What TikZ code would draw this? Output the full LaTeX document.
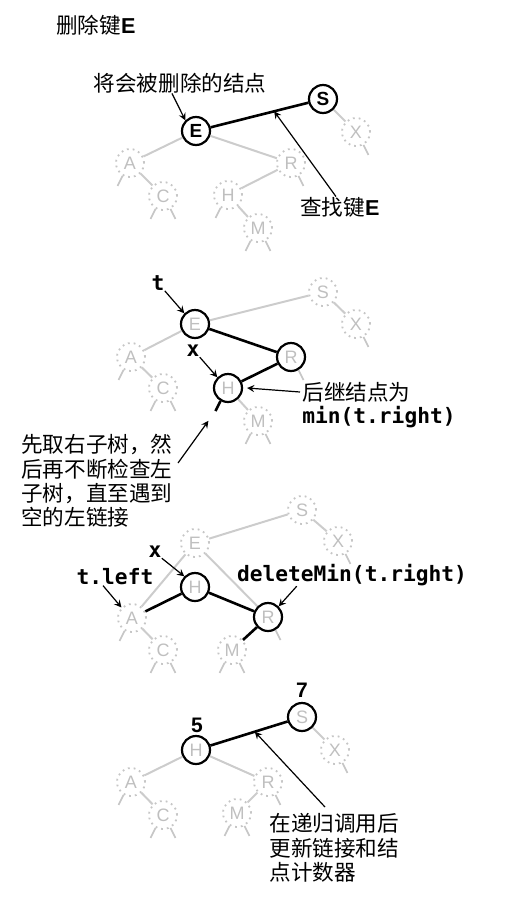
\documentclass[tikz,border=0pt]{standalone}
\usepackage{fontspec}
\setmainfont{Liberation Sans}
\setmonofont{DejaVu Sans Mono}
\newfontfamily\cjk{Noto Sans CJK SC}
\usetikzlibrary{positioning}

\begin{document}
\begin{tikzpicture}
[x=0.5pt,y=-0.5pt,every node/.style={inner sep=0pt},
  key/.style = {circle,draw,line width=1.1pt,minimum size=14pt,
        font=\fontsize{9}{9}\selectfont},
  keyon/.style = {key,font=\fontsize{9.5}{9}\selectfont\bfseries},
  keydim/.style = {key,text=gray!50},
  keyoff/.style = {circle,draw=gray!45,dotted,line width=0.9pt,
        minimum size=14pt,text=gray!50,font=\fontsize{9}{9}\selectfont},
  link/.style = {draw=gray!40,line width=1pt},
  boldlink/.style = {draw,line width=1.3pt},
  nullstub/.style = {draw=gray!45,line width=0.8pt},
  pointer/.style = {-stealth,line width=0.6pt},
  zh/.style = {font=\cjk\fontsize{10.8}{12.2}\selectfont,align=left},
  code/.style = {font=\fontsize{10.6}{12}\selectfont\ttfamily\bfseries}]
\useasboundingbox (0,0) rectangle (510,906);

\node[zh] (title) at (96,25) {删除键{\rmfamily\bfseries E}};

% search for E
\node[keyon] (S1) at (323,99) {S};
\node[keyon] (E1) at (196,131) {E};
\node[keyoff] (X1) at (356,132) {X};
\node[keyoff] (A1) at (130,163) {A};
\node[keyoff] (R1) at (291,163) {R};
\node[keyoff] (C1) at (163,196) {C};
\node[keyoff] (H1) at (228,195) {H};
\node[keyoff] (M1) at (258,228) {M};
\path[link] (S1) edge (X1) (E1) edge (A1) (E1) edge (R1)
   (A1) edge (C1) (R1) edge (H1) (H1) edge (M1);
\draw[boldlink] (E1) -- coordinate[pos=0.65] (es1) (S1);
\node[zh] (doomed) at (180,83) {将会被删除的结点};
\node[zh] (find) at (340,207) {查找键{\rmfamily\bfseries E}};
\draw[pointer] ([xshift=-4pt]doomed.south) -- (E1.north west);
\draw[pointer] ([xshift=-2pt]find.north) -- (es1);

% find the successor
\node[keyoff] (S2) at (323,292) {S};
\node[keydim] (E2) at (195,324) {E};
\node[keyoff] (X2) at (356,324) {X};
\node[keyoff] (A2) at (131,357) {A};
\node[keydim] (R2) at (291,357) {R};
\node[keyoff] (C2) at (163,388) {C};
\node[keydim] (H2) at (228,388) {H};
\node[keyoff] (M2) at (258,421) {M};
\path[link] (E2) edge (S2) (S2) edge (X2) (E2) edge (A2)
   (A2) edge (C2) (H2) edge (M2);
\path[boldlink] (E2) edge (R2) (R2) edge (H2);
\draw[boldlink] (H2.240) -- ++(-5,10) coordinate (h2null);
\node[code] (t2) at (158,283) {t};
\node[code] (x2) at (193,351) {x};
\node[zh,anchor=west] (succ) at (302,392) {后继结点为};
\node[code,anchor=west] (succmin) at (302,417) {min(t.right)};
\node[zh,anchor=west] (walk) at (21,481)
   {先取右子树，然\\后再不断检查左\\子树，直至遇到\\空的左链接};
\coordinate (walkend) at (178,463);
\draw[pointer] (t2.south east) -- (E2.north west);
\draw[pointer] (x2.south east) -- (H2.north west);
\draw[pointer] ([xshift=-1pt]succ.west) -- ([xshift=2pt]H2.east);
\draw[pointer,shorten >=6pt] (walkend) -- (h2null);

% replace E by its successor
\node[keyoff] (S3) at (302,510) {S};
\node[keyoff] (E3) at (195,543) {E};
\node[keyoff] (X3) at (338,541) {X};
\node[keydim] (H3) at (195,587) {H};
\node[keyoff] (A3) at (132,618) {A};
\node[keydim] (R3) at (268,617) {R};
\node[keyoff] (C3) at (163,650) {C};
\node[keyoff] (M3) at (232,650) {M};
\path[link] (E3) edge (S3) (S3) edge (X3) (E3) edge (A3)
   (E3) edge (R3) (A3) edge (C3);
\path[boldlink] (H3) edge (A3) (H3) edge (R3) (R3) edge (M3);
\node[code] (x3) at (155,552) {x};
\node[code] (tleft) at (115,577) {t.left};
\node[code] (delmin) at (352,575) {deleteMin(t.right)};
\draw[pointer] (x3.south east) -- (H3.north west);
\draw[pointer] ([xshift=-6pt]tleft.south) -- (A3.north west);
\draw[pointer] ([xshift=30pt]delmin.south west) -- (R3.north east);

% fix links and counts on the way back
\node[keydim] (S4) at (302,717) {S};
\node[keydim] (H4) at (196,750) {H};
\node[keyoff] (X4) at (335,750) {X};
\node[keyoff] (A4) at (131,782) {A};
\node[keyoff] (R4) at (268,782) {R};
\node[keyoff] (C4) at (163,815) {C};
\node[keyoff] (M4) at (237,813) {M};
\path[link] (S4) edge (X4) (H4) edge (A4) (H4) edge (R4)
   (A4) edge (C4) (R4) edge (M4);
\draw[boldlink] (H4) -- coordinate[pos=0.575] (hs4) (S4);
\node[font=\fontsize{10.5}{10}\selectfont\bfseries] (n7) at (302,690) {7};
\node[font=\fontsize{10.5}{10}\selectfont\bfseries] (n5) at (197,725) {5};
\node[zh,anchor=west] (fix) at (269,848)
   {在递归调用后\\更新链接和结\\点计数器};
\coordinate (fixend) at (325,807);
\draw[pointer] (fixend) -- (hs4);

% null links
\foreach \n in {A1,C1,H1,M1,A2,C2,M2,A3,C3,M3,A4,C4,M4}
   \draw[nullstub] (\n.240) -- ++(-5,10);
\foreach \n in {C1,M1,R1,X1,C2,M2,R2,X2,C3,M3,R3,X3,C4,M4,R4,X4}
   \draw[nullstub] (\n.300) -- ++(5,10);
\end{tikzpicture}
\end{document}
